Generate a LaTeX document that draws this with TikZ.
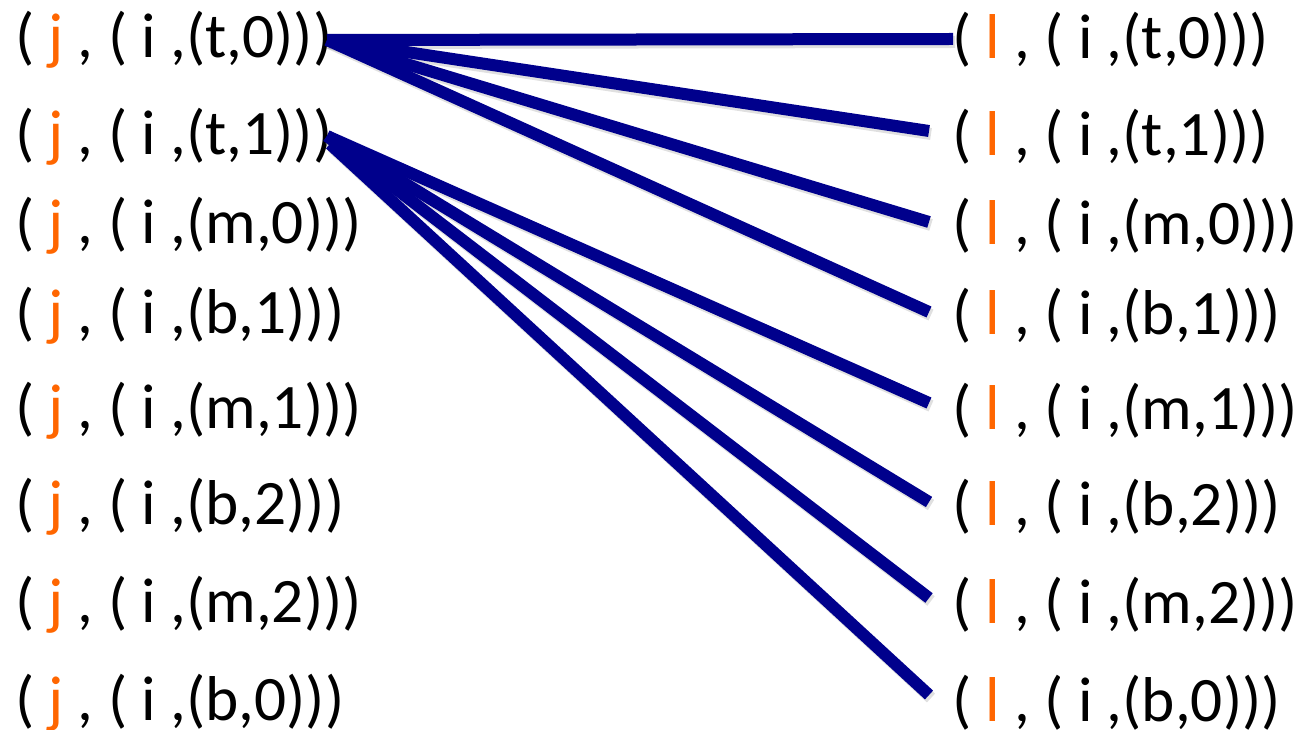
\documentclass[tikz,border=0pt]{standalone}
\usepackage{fontspec}
\setmainfont{Carlito}
\usetikzlibrary{calc}
\definecolor{navy}{RGB}{0,0,140}
\definecolor{accent}{RGB}{255,102,0}
\begin{document}
\begin{tikzpicture}[x=0.75pt,y=-0.75pt,
  lbl/.style={inner sep=0pt,outer sep=0pt,font=\fontsize{47.5}{56}\selectfont,anchor=west},
  conn/.style={draw=navy,line width=9pt},
  shade/.style={draw=black!35,line width=9pt,opacity=0.35}]
\useasboundingbox (0,0) rectangle (1301,730);
\foreach \n/\y/\t in {1/40/{(t,0)},2/137/{(t,1)},3/226/{(m,0)},4/316/{(b,1)},5/411/{(m,1)},6/507/{(b,2)},7/605/{(m,2)},8/703/{(b,0)}}{
  \node[lbl] (L\n) at (15,\y) {( {\color{accent}j} , ( i ,\t))};
  \node[lbl] (R\n) at (952,\y) {( {\color{accent}l} , ( i ,\t))};
}
\coordinate (s1) at (327,40);
\coordinate (s2) at (327,136);
\coordinate (s3) at (330,144);
\coordinate (e1) at (953,39);
\coordinate (e2) at (929,131);
\coordinate (e3) at (929,222);
\coordinate (e4) at (929,312);
\coordinate (e5) at (929,403);
\coordinate (e6) at (929,502);
\coordinate (e7) at (929,598);
\coordinate (e8) at (929,695);
\foreach \s/\e in {s1/e1,s1/e2,s1/e3,s1/e4,s2/e5,s2/e6,s2/e7,s3/e8}{
  \draw[shade] ($(\s)+(2,3)$) -- ($(\e)+(2,3)$);
}
\foreach \s/\e in {s1/e1,s1/e2,s1/e3,s1/e4,s2/e5,s2/e6,s2/e7,s3/e8}{
  \draw[conn] (\s) -- (\e);
}
\end{tikzpicture}
\end{document}
